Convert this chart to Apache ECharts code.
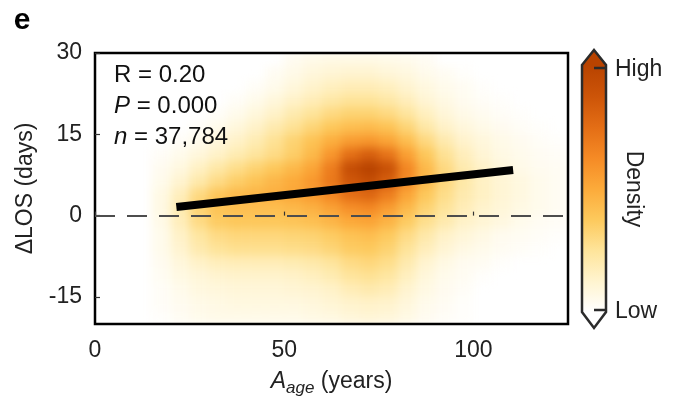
<!DOCTYPE html>
<html>
<head>
<meta charset="utf-8">
<script src="https://cdn.jsdelivr.net/npm/echarts@6/dist/echarts.min.js"></script>
<style>
  html, body { margin: 0; padding: 0; background: #fff; }
  .stage { position: relative; width: 673px; height: 411px; }
  .layer { position: absolute; left: 0; top: 0; width: 673px; height: 411px; }
  /* soften the binned density so it reads like the smoothed scatter */
  #heat { filter: blur(5px); clip-path: inset(54px 106px 88px 96px); }
</style>
</head>
<body>
<div class="stage">
  <div id="heat" class="layer"></div>
  <div id="main" class="layer"></div>
</div>
<script>
// bin centres: age (years) and delta LOS (days)
const ageBins = [2.5, 7.5, 12.5, 17.5, 22.5, 27.5, 32.5, 37.5, 42.5, 47.5, 52.5, 57.5, 62.5,
  67.5, 72.5, 77.5, 82.5, 87.5, 92.5, 97.5, 102.5, 107.5, 112.5, 117.5, 122.5];
const losBins = [-18.75, -16.25, -13.75, -11.25, -8.75, -6.25, -3.75, -1.25, 1.25, 3.75,
  6.25, 8.75, 11.25, 13.75, 16.25, 18.75, 21.25, 23.75, 26.25, 28.75];

// relative density, one row per LOS bin, top row first (28.75 days ... -18.75 days)
const densityRows = [
  [0,0,0,0,0,0,0,0,0,0,4,6,7,7,7,6,5,3,0,0,0,0,0,0,0],
  [0,0,0,0,0,0,0,0,0,3,6,9,11,12,12,10,8,5,3,1,0,0,0,0,0],
  [0,0,0,0,0,0,0,0,2,5,9,13,16,18,18,16,12,8,5,3,1,0,0,0,0],
  [0,0,0,0,0,0,0,2,5,9,14,18,22,25,25,22,17,11,7,4,2,1,0,0,0],
  [0,0,0,0,0,0,2,5,9,14,20,25,30,33,33,30,24,16,10,6,4,2,1,0,0],
  [0,0,0,0,0,2,5,9,14,20,26,32,38,42,43,40,32,22,14,9,6,4,2,1,0],
  [0,0,0,0,2,5,9,14,19,26,33,40,48,55,57,52,42,30,20,13,9,6,4,2,1],
  [0,0,0,2,5,9,14,19,24,29,35,44,58,74,82,72,54,38,26,17,11,7,5,3,2],
  [0,0,0,4,8,15,22,28,33,38,44,52,68,92,100,90,64,44,30,20,14,9,6,4,3],
  [0,0,0,5,12,21,29,35,40,45,50,57,70,86,92,82,62,44,31,22,15,11,8,5,3],
  [0,0,0,7,17,30,39,44,46,48,51,56,64,74,78,68,52,38,28,20,15,11,8,5,3],
  [0,0,0,7,19,33,40,42,42,42,44,47,53,60,63,55,44,33,25,18,13,10,7,5,3],
  [0,0,0,6,17,29,36,38,38,38,39,41,45,50,52,46,36,27,20,14,11,8,5,3,2],
  [0,0,0,5,14,23,29,31,31,31,32,33,36,40,42,37,29,21,14,10,7,4,3,2,1],
  [0,0,0,5,12,20,25,27,27,27,28,29,32,36,37,33,25,17,11,7,5,3,2,1,0],
  [0,0,0,4,9,14,17,18,18,18,19,21,24,29,31,28,20,12,7,4,3,1,0,0,0],
  [0,0,0,3,7,10,12,13,13,13,14,16,19,24,26,23,16,9,5,3,1,0,0,0,0],
  [0,0,0,2,5,8,9,10,10,10,11,12,14,18,20,18,12,7,4,2,0,0,0,0,0],
  [0,0,0,2,4,6,7,8,8,8,8,9,11,13,14,13,9,5,3,1,0,0,0,0,0],
  [0,0,0,1,3,5,6,6,6,6,6,7,8,10,11,10,7,4,2,1,0,0,0,0,0]
];

// linear fit endpoints
const fitAge = [21.5, 110.5];
const fitLos = [1.6, 8.4];

const xTicks = [0, 50, 100];
const yTicks = [-15, 0, 15, 30];
const stats = ['R = 0.20', '{i|P} = 0.000', '{i|n} = 37,784'];

const densityColors = ['#ffffff', '#fff4cf', '#fee49a', '#fdc95c', '#fcaa3a',
  '#f58a25', '#e36d15', '#cc5408', '#b84300'];

const FONT = '"Liberation Sans", Arial, sans-serif';
const gridBox = { left: 95, top: 53, width: 473, height: 271 };

// ---- density layer ----
let heatData = [];
densityRows.forEach(function (row, r) {
  const j = losBins.length - 1 - r;
  row.forEach(function (v, i) {
    if (v > 0) heatData.push([i, j, v]);
  });
});

const heatChart = echarts.init(document.getElementById('heat'));
heatChart.setOption({
  animation: false,
  grid: gridBox,
  xAxis: { type: 'category', data: ageBins, show: false },
  yAxis: { type: 'category', data: losBins, show: false },
  visualMap: {
    show: false,
    min: 0,
    max: 100,
    inRange: { color: densityColors },
  },
  series: [{ type: 'heatmap', data: heatData }],
});

// ---- axes, fit line, annotations ----
const barStops = densityColors.map(function (c, k) {
  return { offset: 1 - k / (densityColors.length - 1), color: c };
});

const myChart = echarts.init(document.getElementById('main'));
let option = {
  animation: false,
  grid: Object.assign({ show: true, borderColor: '#000', borderWidth: 2.5 }, gridBox),
  xAxis: {
    type: 'value',
    min: 0,
    max: 125,
    axisLine: { show: false },
    splitLine: { show: false },
    axisTick: { inside: true, length: 4, customValues: xTicks, lineStyle: { color: '#333', width: 1.2 } },
    axisLabel: { customValues: xTicks, fontSize: 23, fontFamily: FONT, color: '#222', margin: 15 },
    name: '{a|A}{s|age} (years)',
    nameLocation: 'middle',
    nameGap: 42,
    nameTextStyle: {
      fontSize: 23,
      fontFamily: FONT,
      color: '#222',
      rich: {
        a: { fontSize: 23, fontStyle: 'italic', fontFamily: FONT, color: '#222' },
        s: { fontSize: 17, fontStyle: 'italic', fontFamily: FONT, color: '#222', padding: [14, 0, 0, 0] },
      },
    },
  },
  yAxis: {
    type: 'value',
    min: -20,
    max: 30,
    axisLine: { show: false },
    splitLine: { show: false },
    axisTick: { inside: true, length: 5, customValues: yTicks, lineStyle: { color: '#333', width: 1.2 } },
    axisLabel: { customValues: yTicks, fontSize: 23, fontFamily: FONT, color: '#222', margin: 13 },
    name: '\u0394LOS (days)',
    nameLocation: 'middle',
    nameGap: 58,
    nameTextStyle: { fontSize: 23, fontFamily: FONT, color: '#222' },
  },
  series: [
    {
      type: 'line',
      data: [[fitAge[0], fitLos[0]], [fitAge[1], fitLos[1]]],
      symbol: 'none',
      z: 5,
      lineStyle: { color: '#000', width: 8, cap: 'butt' },
      markLine: {
        silent: true,
        symbol: 'none',
        label: { show: false },
        lineStyle: { color: '#4d4d4d', width: 2, type: [20, 12] },
        data: [{ yAxis: 0 }],
      },
    },
  ],
  graphic: [
    { type: 'text', x: 22, y: 21, style: { text: 'e', font: 'bold 30px ' + FONT, fill: '#000', align: 'center', verticalAlign: 'middle' } },
    {
      type: 'group',
      children: stats.map(function (s, k) {
        return {
          type: 'text',
          x: 114,
          y: 75 + k * 31,
          style: {
            text: s,
            font: '24px ' + FONT,
            fill: '#111',
            verticalAlign: 'middle',
            rich: { i: { font: 'italic 24px ' + FONT, fill: '#111' } },
          },
        };
      }),
    },
    {
      type: 'polygon',
      shape: { points: [[582, 65], [594, 50], [606, 65], [606, 312], [594, 328], [582, 312]] },
      style: {
        fill: new echarts.graphic.LinearGradient(0, 65, 0, 312, barStops, true),
        stroke: '#2b2b2b',
        lineWidth: 2.5,
      },
    },
    { type: 'line', shape: { x1: 594, y1: 68, x2: 606, y2: 68 }, style: { stroke: '#2b2b2b', lineWidth: 2.5 } },
    { type: 'line', shape: { x1: 594, y1: 310, x2: 606, y2: 310 }, style: { stroke: '#2b2b2b', lineWidth: 2.5 } },
    { type: 'text', x: 615, y: 70, style: { text: 'High', font: '23px ' + FONT, fill: '#222', verticalAlign: 'middle' } },
    { type: 'text', x: 615, y: 312, style: { text: 'Low', font: '23px ' + FONT, fill: '#222', verticalAlign: 'middle' } },
    {
      type: 'text',
      x: 633,
      y: 189,
      rotation: -Math.PI / 2,
      style: { text: 'Density', font: '23px ' + FONT, fill: '#222', align: 'center', verticalAlign: 'middle' },
    },
  ],
};
option && myChart.setOption(option);
</script>
</body>
</html>
